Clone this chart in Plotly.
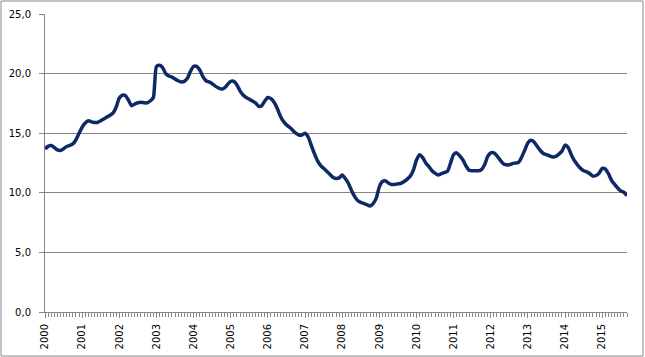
import plotly.graph_objects as go

# Monthly values, Jan 2000 .. Sep 2015
values = [
    13.68, 13.9, 13.96, 13.8, 13.6, 13.55, 13.7, 13.88, 13.97, 14.1, 14.45, 15.0,   # 2000
    15.5, 15.85, 16.05, 15.95, 15.9, 15.9, 16.05, 16.2, 16.35, 16.5, 16.7, 17.2,      # 2001
    17.95, 18.2, 18.15, 17.75, 17.3, 17.45, 17.55, 17.6, 17.55, 17.55, 17.7, 18.0,    # 2002
    20.6, 20.7, 20.5, 20.0, 19.8, 19.7, 19.55, 19.4, 19.3, 19.35, 19.6, 20.2,         # 2003
    20.6, 20.6, 20.3, 19.75, 19.4, 19.3, 19.15, 18.95, 18.8, 18.7, 18.8, 19.1,        # 2004
    19.35, 19.35, 19.05, 18.55, 18.2, 18.0, 17.85, 17.7, 17.55, 17.25, 17.3, 17.7,    # 2005
    18.0, 17.9, 17.6, 17.1, 16.45, 16.0, 15.7, 15.5, 15.25, 15.0, 14.85, 14.85,       # 2006
    15.0, 14.7, 14.0, 13.3, 12.7, 12.3, 12.05, 11.8, 11.55, 11.3, 11.2, 11.25,        # 2007
    11.5, 11.2, 10.8, 10.2, 9.7, 9.35, 9.2, 9.1, 9.0, 8.9, 9.1, 9.55,                 # 2008
    10.5, 10.95, 11.0, 10.8, 10.7, 10.7, 10.75, 10.8, 10.95, 11.15, 11.4, 11.9,       # 2009
    12.75, 13.2, 12.95, 12.5, 12.2, 11.85, 11.65, 11.5, 11.6, 11.7, 11.8, 12.5,       # 2010
    13.2, 13.35, 13.1, 12.75, 12.25, 11.9, 11.85, 11.85, 11.85, 11.95, 12.35, 13.05,  # 2011
    13.35, 13.35, 13.1, 12.75, 12.45, 12.35, 12.35, 12.45, 12.5, 12.55, 13.0, 13.6,   # 2012
    14.2, 14.4, 14.25, 13.9, 13.55, 13.3, 13.2, 13.1, 13.0, 13.05, 13.25, 13.5,       # 2013
    14.0, 13.8, 13.2, 12.7, 12.35, 12.05, 11.85, 11.75, 11.6, 11.4, 11.45, 11.65,     # 2014
    12.05, 12.0, 11.6, 11.05, 10.7, 10.4, 10.15, 10.05, 9.75,                          # 2015
]
years = [str(y) for y in range(2000, 2016)]
month_index = list(range(len(values)))
year_ticks = [12 * i for i in range(len(years))]
y_ticks = [0, 5, 10, 15, 20, 25]

W, H = 645, 357
ML, MR, MT, MB = 45, 18, 14, 45
pw, ph = W - ML - MR, H - MT - MB

fig = go.Figure()
fig.add_trace(go.Scatter(
    x=month_index, y=values, mode="lines",
    line=dict(color="#0D2A66", width=3.5, shape="spline", smoothing=0.6),
    hoverinfo="skip", showlegend=False,
))

grid = "#868686"
fig.update_layout(
    width=W, height=H,
    margin=dict(l=ML, r=MR, t=MT, b=MB, autoexpand=False),
    paper_bgcolor="white", plot_bgcolor="white",
    separators=",.",
    font=dict(family="DejaVu Sans", size=10, color="black"),
    xaxis=dict(
        range=[0, len(values) - 1],
        tickmode="array", tickvals=year_ticks, ticktext=years,
        tickangle=-90, ticks="outside", ticklen=5, tickcolor=grid,
        ticklabelstandoff=2,
        showline=True, linecolor=grid, linewidth=1,
        showgrid=False, zeroline=False, automargin=False,
        minor=dict(tickmode="linear", tick0=0, dtick=1, ticks="outside",
                   ticklen=4, tickcolor=grid, showgrid=False),
    ),
    yaxis=dict(
        range=[0, 25], tickmode="array", tickvals=y_ticks,
        tickformat=".1f", ticks="outside", ticklen=5, tickcolor=grid,
        ticklabelstandoff=6,
        showline=True, linecolor=grid, linewidth=1, automargin=False,
        showgrid=True, gridcolor=grid, gridwidth=1, zeroline=False,
    ),
    shapes=[dict(
        type="rect", xref="paper", yref="paper",
        x0=(1 - ML) / pw, x1=(W - 2 - ML) / pw,
        y0=-(MB - 1) / ph, y1=1 + (MT - 1) / ph,
        line=dict(color=grid, width=1), fillcolor="rgba(0,0,0,0)", layer="below",
    )],
)

fig.write_html("out.html",
               config={"displayModeBar": False, "staticPlot": True},
               post_script="document.body.style.margin='0';document.body.style.padding='0';")
